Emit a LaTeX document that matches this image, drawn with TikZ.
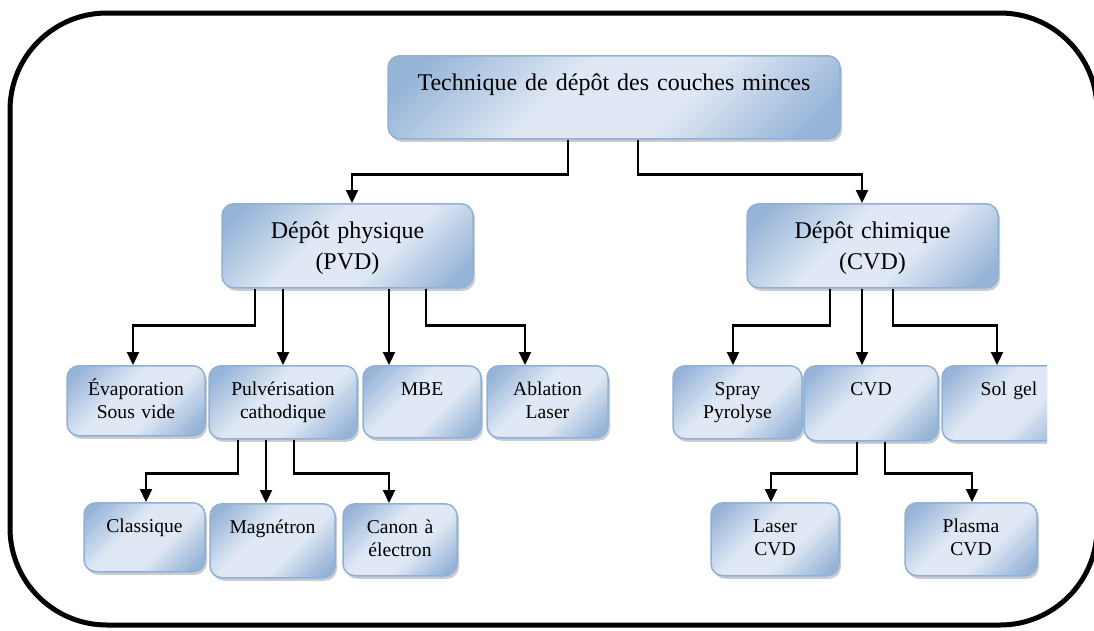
\documentclass[tikz,border=0pt]{standalone}
\usepackage{fontspec}
\setmainfont{Liberation Serif}
\usetikzlibrary{arrows.meta,shadows}
\definecolor{boxlight}{RGB}{223,232,244}
\definecolor{boxdark}{RGB}{150,180,216}
\definecolor{boxline}{RGB}{143,176,215}
\pgfdeclareverticalshading{boxshade}{100bp}{color(0bp)=(boxdark); color(20bp)=(boxdark); color(40bp)=(boxlight); color(58bp)=(boxlight); color(80bp)=(boxdark); color(100bp)=(boxdark)}
\begin{document}
\begin{tikzpicture}[x=1pt,y=-1pt,
  box/.style={draw=boxline,line width=1.5pt,rounded corners=12pt,
    shading=boxshade,shading angle=45,
    drop shadow={shadow xshift=2pt,shadow yshift=-3pt,fill=black!40},
    align=center,inner sep=0pt,anchor=north},
  big/.style={box,font=\fontsize{24}{31}\selectfont,text height=35pt},
  small/.style={box,font=\fontsize{19.6}{23}\selectfont,text height=30pt},
  arr/.style={line width=2.2pt,-{Triangle[width=12pt,length=13pt]}}]
\useasboundingbox (0,0) rectangle (1094,630);
\clip (0,0) rectangle (1094,630);
\draw[line width=5pt,rounded corners=97pt] (10,13) rectangle (1097,625);
\node[big,text width=452pt,text depth=48pt] (tech) at (614,55) {Technique de dépôt des couches minces};
\node[big,text width=251pt,text depth=49pt] (pvd) at (347.5,203) {Dépôt physique\\(PVD)};
\node[big,text width=251pt,text depth=49pt] (chim) at (872.5,203) {Dépôt chimique\\(CVD)};
\node[small,text width=138pt,text depth=40pt] (evap) at (136,365) {Évaporation\\Sous vide};
\node[small,text width=148pt,text depth=43pt] (pulv) at (283,365) {Pulvérisation\\cathodique};
\node[small,text width=118pt,text depth=42pt] (mbe) at (422,365) {MBE};
\node[small,text width=121pt,text depth=42pt] (abl) at (547.5,365) {Ablation\\Laser};
\node[small,text width=129pt,text depth=43pt] (spray) at (737.5,365) {Spray\\Pyrolyse};
\node[small,text width=134pt,text depth=45pt] (cvd) at (871,365) {CVD};
\begin{scope}
\clip (0,0) rectangle (1047,630);
\node[small,text width=134pt,text depth=45pt] (sol) at (1009,365) {Sol gel};
\end{scope}
\node[small,text width=121pt,text depth=39pt] (clas) at (144.5,502) {Classique};
\node[small,text width=125pt,text depth=44pt] (magn) at (272.5,503) {Magnétron};
\node[small,text width=114pt,text depth=42pt] (canon) at (400,503) {Canon à\\électron};
\node[small,text width=128pt,text depth=43pt] (laser) at (775,502) {Laser\\CVD};
\node[small,text width=132pt,text depth=43pt] (plasma) at (971,502) {Plasma\\CVD};
\draw[arr] ([xshift=-46pt]tech.south) -- ++(0,35) -| ([xshift=4.5pt]pvd.north);
\draw[arr] ([xshift=24pt]tech.south) -- ++(0,35) -| ([xshift=-10.5pt]chim.north);
\draw[arr] ([xshift=-92.5pt]pvd.south) -- ++(0,37) -| ([xshift=-3pt]evap.north);
\draw[arr] ([xshift=-64.5pt]pvd.south) -- (pulv.north);
\draw[arr] ([xshift=41.5pt]pvd.south) -- ([xshift=-33pt]mbe.north);
\draw[arr] ([xshift=78.5pt]pvd.south) -- ++(0,37) -| ([xshift=-22.5pt]abl.north);
\draw[arr] ([xshift=-42.5pt]chim.south) -- ++(0,37) -| ([xshift=-4.5pt]spray.north);
\draw[arr] ([xshift=-10.5pt]chim.south) -- ([xshift=-9pt]cvd.north);
\draw[arr] ([xshift=20.5pt]chim.south) -- ++(0,37) -| ([xshift=-12pt]sol.north);
\draw[arr] ([xshift=-45pt]pulv.south) -- ++(0,34) -| ([xshift=1.5pt]clas.north);
\draw[arr] ([xshift=-17pt]pulv.south) -- ([xshift=-6.5pt]magn.north);
\draw[arr] ([xshift=11pt]pulv.south) -- ++(0,34) -| ([xshift=-11pt]canon.north);
\draw[arr] ([xshift=-14pt]cvd.south) -- ++(0,32) -| ([xshift=-4pt]laser.north);
\draw[arr] ([xshift=14pt]cvd.south) -- ++(0,32) -| ([xshift=1pt]plasma.north);
\end{tikzpicture}
\end{document}
